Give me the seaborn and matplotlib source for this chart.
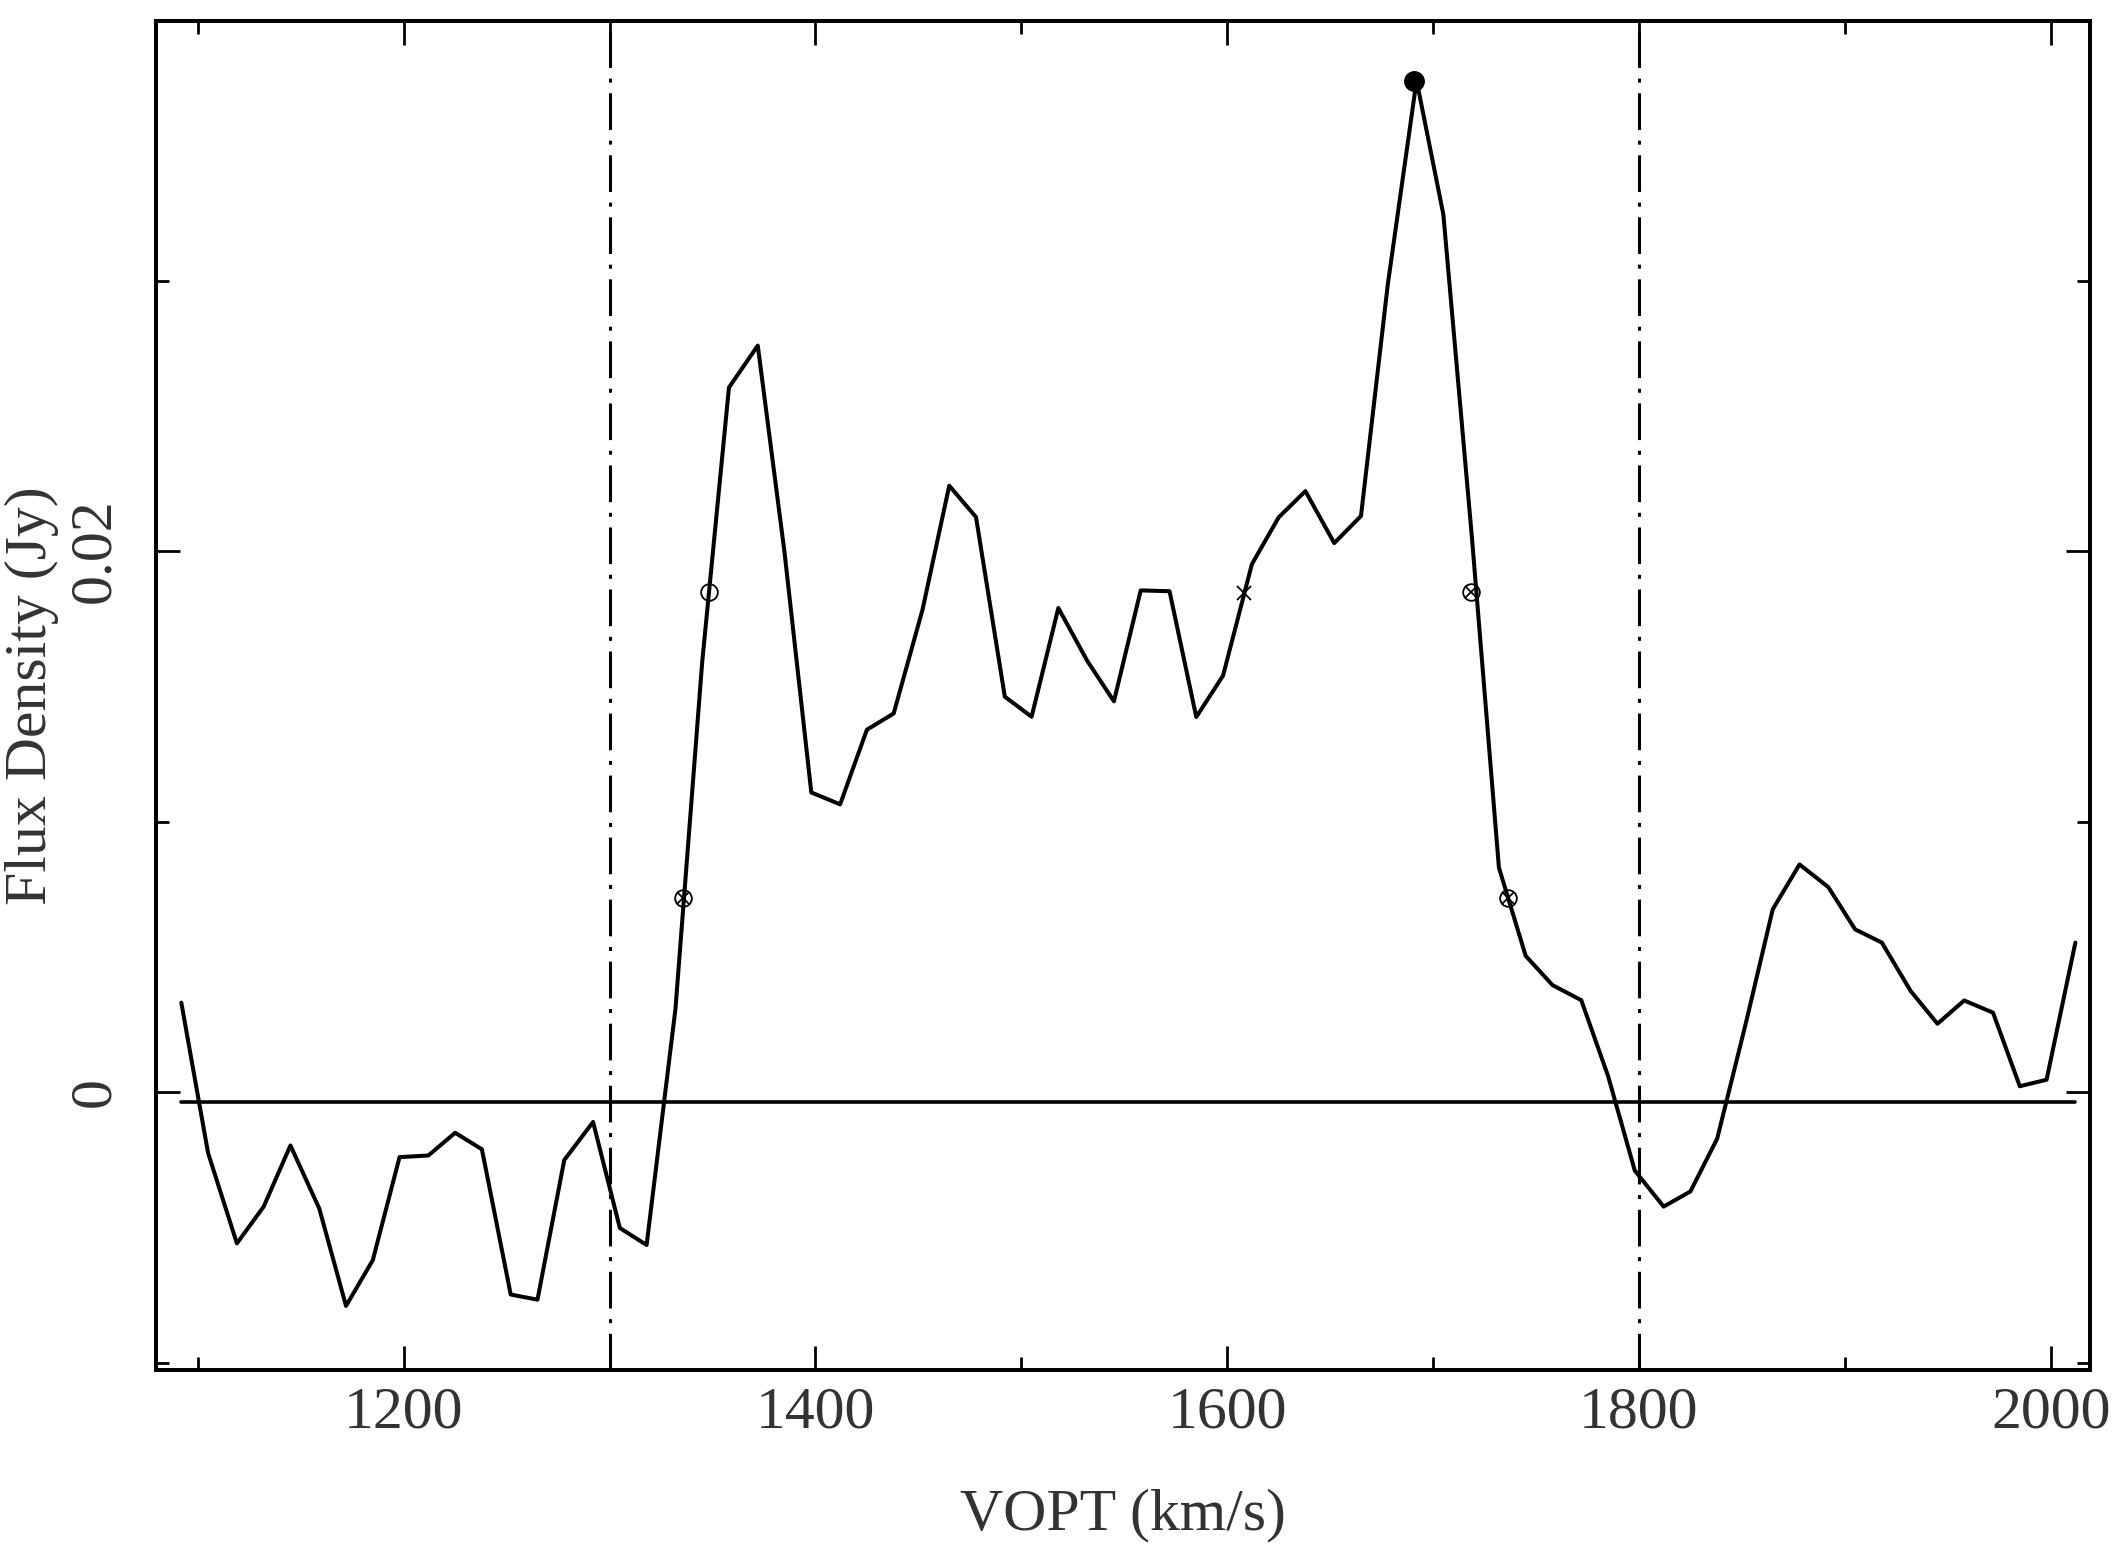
import numpy as np
import pandas as pd
import seaborn as sns
import matplotlib
matplotlib.use("Agg")
from matplotlib import pyplot as plt
from matplotlib.ticker import MultipleLocator, FuncFormatter

# spectrum channels (km/s) and flux density (Jy)
velocity = [1092, 1105, 1119, 1132, 1145, 1159, 1172, 1185, 1198, 1212,
            1225, 1238, 1252, 1265, 1278, 1292, 1305, 1318, 1332, 1345,
            1358, 1372, 1385, 1398, 1412, 1425, 1438, 1452, 1465, 1478,
            1492, 1505, 1518, 1532, 1545, 1558, 1572, 1585, 1598, 1612,
            1625, 1638, 1652, 1665, 1678, 1692, 1705, 1719, 1732, 1745,
            1758, 1772, 1785, 1798, 1812, 1825, 1838, 1852, 1865, 1878,
            1892, 1905, 1918, 1932, 1945, 1958, 1972, 1985, 1998, 2012]
flux = [0.00331, -0.00225, -0.00559, -0.00423, -0.00197, -0.00430, -0.00790, -0.00621, -0.00240, -0.00234,
        -0.00150, -0.00211, -0.00748, -0.00767, -0.00251, -0.00110, -0.00502, -0.00565, 0.00307, 0.01590,
        0.02605, 0.02760, 0.01995, 0.01108, 0.01064, 0.01340, 0.01400, 0.01783, 0.02242, 0.02126,
        0.01462, 0.01388, 0.01790, 0.01595, 0.01445, 0.01855, 0.01852, 0.01387, 0.01540, 0.01952,
        0.02125, 0.02222, 0.02030, 0.02130, 0.02985, 0.03740, 0.03245, 0.02040, 0.00830, 0.00504,
        0.00396, 0.00340, 0.00060, -0.00290, -0.00423, -0.00367, -0.00172, 0.00257, 0.00676, 0.00842,
        0.00758, 0.00602, 0.00553, 0.00374, 0.00253, 0.00339, 0.00294, 0.00022, 0.00046, 0.00553]

baseline_level = -0.00035
window_edges = [1300, 1800]

# width markers (20% / 50% levels), centre and peak
otimes_v = [1335.9, 1718.5, 1736.6]
otimes_f = [0.00718, 0.01848, 0.00718]
circle_v = [1348.3]
circle_f = [0.01848]
cross_v = [1608.3]
cross_f = [0.01847]
peak_v = [1690.7]
peak_f = [0.03740]

df = pd.DataFrame({'VOPT': velocity, 'flux': flux})
base = pd.DataFrame({'VOPT': [velocity[0], velocity[-1]], 'flux': [baseline_level] * 2})

sns.set_style('ticks')
plt.rcParams['font.family'] = ['Liberation Serif', 'DejaVu Serif']

fig = plt.figure(figsize=(21.22, 15.5), dpi=100)
ax = fig.add_axes([156 / 2122, 1 - 1370 / 1550, (2090 - 156) / 2122, (1370 - 21) / 1550])

sns.lineplot(data=df, x='VOPT', y='flux', ax=ax, color='black', lw=2.9,
             sort=False, estimator=None)
sns.lineplot(data=base, x='VOPT', y='flux', ax=ax, color='black', lw=2.6,
             sort=False, estimator=None)

for v in window_edges:
    ax.axvline(v, color='black', lw=2.2, ls=(0, (12, 3.5, 1.3, 3.5)))

ax.plot(otimes_v, otimes_f, ls='none', marker='o', ms=12, mfc='none', mec='black', mew=1.3)
ax.plot(otimes_v, otimes_f, ls='none', marker='x', ms=8, mec='black', mew=1.3)
ax.plot(circle_v, circle_f, ls='none', marker='o', ms=12, mfc='none', mec='black', mew=1.3)
ax.plot(cross_v, cross_f, ls='none', marker='x', ms=10, mec='black', mew=1.3)
ax.plot(peak_v, peak_f, ls='none', marker='o', ms=14, color='black')

ax.set_xlim(1079.7, 2019.1)
ax.set_ylim(-0.01027, 0.0396)

ax.xaxis.set_major_locator(MultipleLocator(200))
ax.xaxis.set_minor_locator(MultipleLocator(100))
ax.yaxis.set_major_locator(MultipleLocator(0.02))
ax.yaxis.set_minor_locator(MultipleLocator(0.01))
ax.yaxis.set_major_formatter(FuncFormatter(lambda y, p: '%g' % round(y, 4)))

ax.tick_params(which='both', direction='in', top=True, right=True, width=2.0,
               color='black', labelsize=43, labelcolor='#333333')
ax.tick_params(which='major', length=17)
ax.tick_params(which='minor', length=9.5)
ax.tick_params(axis='x', pad=12)
ax.tick_params(axis='y', pad=24)
plt.setp(ax.get_yticklabels(), rotation=90, va='center')

for s in ax.spines.values():
    s.set_linewidth(2.9)
    s.set_color('black')

ax.set_xlabel('VOPT (km/s)', fontsize=43, color='#333333', labelpad=34)
ax.set_ylabel('Flux Density (Jy)', fontsize=43, color='#333333', va='center')
ax.yaxis.set_label_coords(-0.064, 0.5)

fig.savefig('out.png', dpi=100)
